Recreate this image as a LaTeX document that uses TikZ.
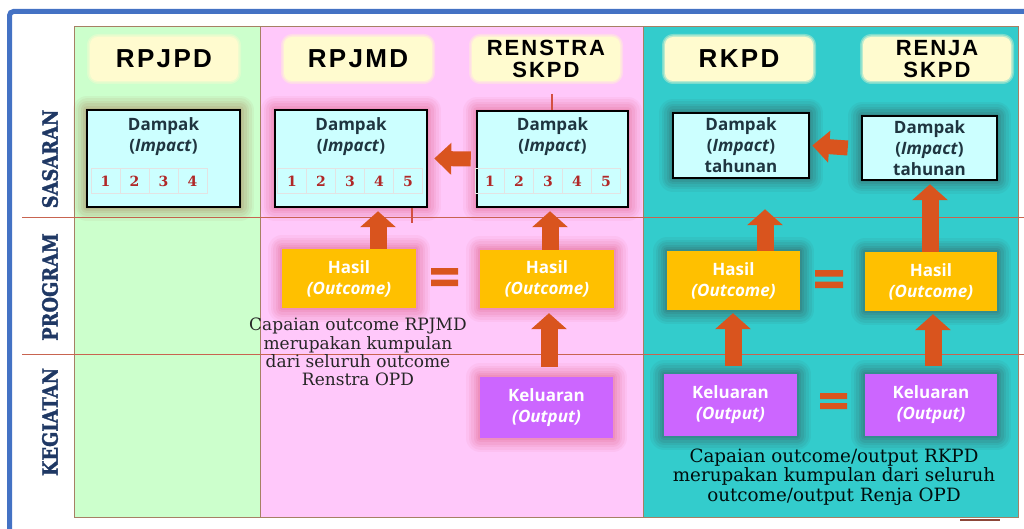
\documentclass[tikz,border=0pt]{standalone}
\usepackage{fontspec}
\usetikzlibrary{arrows.meta,calc,positioning}
\newfontfamily\headfont[LetterSpace=9]{Liberation Sans}
\newfontfamily\boxfont{Open Sans}
\newfontfamily\slabfont{DejaVu Serif}
\newfontfamily\rowfont[FakeStretch=0.85,FakeBold=1.5]{DejaVu Serif}
\definecolor{frameblue}{HTML}{4472C4}
\definecolor{colgreen}{HTML}{CCFFCC}
\definecolor{colpink}{HTML}{FFC8FA}
\definecolor{colteal}{HTML}{33CCCC}
\definecolor{headyellow}{HTML}{FFFBCF}
\definecolor{impactcyan}{HTML}{CCFFFF}
\definecolor{outcomeorange}{HTML}{FFC000}
\definecolor{outputpurple}{HTML}{CC66FF}
\definecolor{arroworange}{HTML}{D9541E}
\definecolor{rowblue}{HTML}{1F3864}
\definecolor{gridbrown}{HTML}{A68064}
\definecolor{rowline}{HTML}{C86450}
\definecolor{numred}{HTML}{B02828}
\definecolor{impacttext}{HTML}{1F3540}
\definecolor{glowpink}{HTML}{E04A70}
\definecolor{glowbrown}{HTML}{A0603C}
\definecolor{glowgray}{HTML}{34403F}
\tikzset{>=latex,
  glow/.style={preaction={draw=#1,line width=28pt,opacity=0.06,line join=round},
    preaction={draw=#1,line width=23pt,opacity=0.07,line join=round},
    preaction={draw=#1,line width=18pt,opacity=0.08,line join=round},
    preaction={draw=#1,line width=13pt,opacity=0.09,line join=round},
    preaction={draw=#1,line width=8pt,opacity=0.1,line join=round},
    preaction={draw=#1,line width=4pt,opacity=0.12,line join=round}},
  softglow/.style={preaction={draw=#1,line width=6pt,opacity=0.35,line join=round},
    preaction={draw=#1,line width=3pt,opacity=0.5,line join=round}},
  head/.style={fill=headyellow,rounded corners=8pt,minimum width=148pt,
    minimum height=44pt,align=center,inner sep=0pt,softglow=headyellow,
    font=\headfont\bfseries\fontsize{26}{24}\selectfont},
  headtwo/.style={head,font=\headfont\bfseries\fontsize{22}{22}\selectfont},
  impact/.style={draw=black,line width=2.5pt,fill=impactcyan,inner sep=0pt},
  impacttxt/.style={align=center,text=impacttext,inner sep=0pt,
    font=\boxfont\bfseries\fontsize{17}{21}\selectfont},
  numcell/.style={draw=gray!22,line width=0.6pt,minimum width=29pt,
    minimum height=25pt,inner sep=0pt,text=numred,
    font=\slabfont\bfseries\fontsize{14}{13}\selectfont},
  outcome/.style={fill=outcomeorange,text=white,align=center,inner sep=0pt,
    font=\boxfont\bfseries\fontsize{17}{21}\selectfont},
  output/.style={outcome,fill=outputpurple},
  rowlabel/.style={rotate=90,text=rowblue,inner sep=0pt,
    font=\rowfont\bfseries\fontsize{21}{21}\selectfont},
  note/.style={align=center,inner sep=0pt},
  blockup/.style={draw=arroworange,line width=17pt,
    -{Triangle[length=16pt,width=35pt]}},
  blockleft/.style={draw=arroworange,line width=15pt,
    -{Triangle[length=17pt,width=31pt]}}
}
\begin{document}
\begin{tikzpicture}[x=1pt,y=-1pt]
  \useasboundingbox (0,0) rectangle (1024,529);
  % columns and rows
  \fill[colgreen] (74,27) rectangle (260,517);
  \fill[colpink] (260,27) rectangle (643,517);
  \fill[colteal] (643,27) rectangle (1018,517);
  \draw[gridbrown,line width=1pt] (74,27) rectangle (1018,517)
    (260,27) -- (260,517) (643,27) -- (643,517);
  \draw[rowline,line width=1pt] (22,218) -- (1024,218) (22,354) -- (1024,354);
  \draw[frameblue,line width=5pt,rounded corners=4pt]
    (9.5,560) -- (9.5,11.5) -- (1050,11.5);

  \node[rowlabel] (sasaran) at (50,159) {SASARAN};
  \node[rowlabel] (program) at (50,287) {PROGRAM};
  \node[rowlabel] (kegiatan) at (50,422) {KEGIATAN};

  % headers
  \node[head] (rpjpd) at (164,59) {RPJPD};
  \node[head] (rpjmd) at (358,59) {RPJMD};
  \node[headtwo] (renstra) at (546,59) {RENSTRA\\SKPD};
  \node[head] (rkpd) at (739,59) {RKPD};
  \node[headtwo] (renja) at (937,59) {RENJA\\SKPD};

  % sasaran row
  \node[impact,glow=glowbrown,minimum width=153pt,minimum height=97pt]
    (d1) at (163.5,158.5) {};
  \node[impact,glow=glowpink,minimum width=152pt,minimum height=97pt]
    (d2) at (351,158.5) {};
  \node[impact,glow=glowpink,minimum width=151pt,minimum height=96pt]
    (d3) at (552.5,159) {};
  \node[impacttxt] (d1t) at (163.5,137) {Dampak\\(\textit{Impact})};
  \node[impacttxt] (d2t) at (351,137) {Dampak\\(\textit{Impact})};
  \node[impacttxt] (d3t) at (552.5,137) {Dampak\\(\textit{Impact})};
  \foreach \i in {1,...,4}
    \node[numcell] (d1n\i) at ({76.5+29*\i},181) {\i};
  \foreach \i in {1,...,5}{
    \node[numcell] (d2n\i) at ({263+29*\i},181) {\i};
    \node[numcell] (d3n\i) at ({461+29*\i},181) {\i};
  }
  \node[impact,impacttxt,glow=glowgray,minimum width=136pt,minimum height=65pt]
    (d4) at (741,145.5) {Dampak\\(\textit{Impact})\\tahunan};
  \node[impact,impacttxt,glow=glowgray,minimum width=135pt,minimum height=64pt]
    (d5) at (929.5,148) {Dampak\\(\textit{Impact})\\tahunan};

  % program row
  \node[outcome,glow=glowpink,minimum width=134pt,minimum height=59pt]
    (o2) at (349,278.5) {Hasil\\\textit{(Outcome)}};
  \node[outcome,glow=glowpink,minimum width=134pt,minimum height=58pt]
    (o3) at (547,279) {Hasil\\\textit{(Outcome)}};
  \node[outcome,glow=glowgray,minimum width=133pt,minimum height=59pt]
    (o4) at (733.5,280.5) {Hasil\\\textit{(Outcome)}};
  \node[outcome,glow=glowgray,minimum width=132pt,minimum height=59pt]
    (o5) at (931,281.5) {Hasil\\\textit{(Outcome)}};

  % kegiatan row
  \node[output,glow=glowpink,minimum width=133pt,minimum height=61pt]
    (k3) at (546.5,407.5) {Keluaran\\\textit{(Output)}};
  \node[output,glow=glowgray,minimum width=133pt,minimum height=62pt]
    (k4) at (730.5,405) {Keluaran\\\textit{(Output)}};
  \node[output,glow=glowgray,minimum width=132pt,minimum height=62pt]
    (k5) at (931,405) {Keluaran\\\textit{(Output)}};

  \node[note,text=black!85,font=\slabfont\fontsize{17}{18.2}\selectfont]
    (note1) at (358,352) {Capaian outcome RPJMD\\merupakan kumpulan\\dari seluruh outcome\\Renstra OPD};
  \node[note,text=black!90!teal,font=\slabfont\fontsize{18.3}{19.5}\selectfont]
    (note2) at (834,477) {Capaian outcome/output RKPD\\merupakan kumpulan dari seluruh\\outcome/output Renja OPD};

  % arrows
  \draw[blockleft] ([xshift=-5pt]d3.west) -- ([xshift=6pt]d2.east);
  \draw[blockleft] ([xshift=-13pt]d5.west) -- ([xshift=2pt]d4.east);
  \draw[blockup] ([xshift=29pt]o2.north) -- ([xshift=27pt,yshift=-3pt]d2.south);
  \draw[blockup] ([xshift=3pt]o3.north) -- ([xshift=-2.5pt,yshift=-3pt]d3.south);
  \draw[blockup] ([xshift=2.5pt,yshift=10pt]k3.north) -- ([xshift=2pt,yshift=-5pt]o3.south);
  \draw[blockup] ([xshift=31.5pt]o4.north) -- ([xshift=24pt,yshift=-30pt]d4.south);
  \draw[blockup] ([xshift=-1pt]o5.north) -- ([xshift=0.5pt,yshift=-3pt]d5.south);
  \draw[blockup] ([xshift=2.5pt,yshift=8pt]k4.north) -- ([xshift=-0.5pt,yshift=-3pt]o4.south);
  \draw[blockup] ([xshift=2pt,yshift=8pt]k5.north) -- ([xshift=2pt,yshift=-3pt]o5.south);

  % equal signs
  \fill[arroworange] (431,268) rectangle (458,274.5) (431,279.5) rectangle (458,286)
    (815,270) rectangle (843,276.5) (815,281.5) rectangle (843,288)
    (820,393) rectangle (847,399) (820,403) rectangle (847,409);

  % small red ticks
  \draw[rowline!80!red,line width=2pt] (412,208) -- (412,223) (552,94) -- (552,110);
  \draw[rowline!70!black,line width=2pt] (960,520) -- (1000,520);
\end{tikzpicture}
\end{document}
